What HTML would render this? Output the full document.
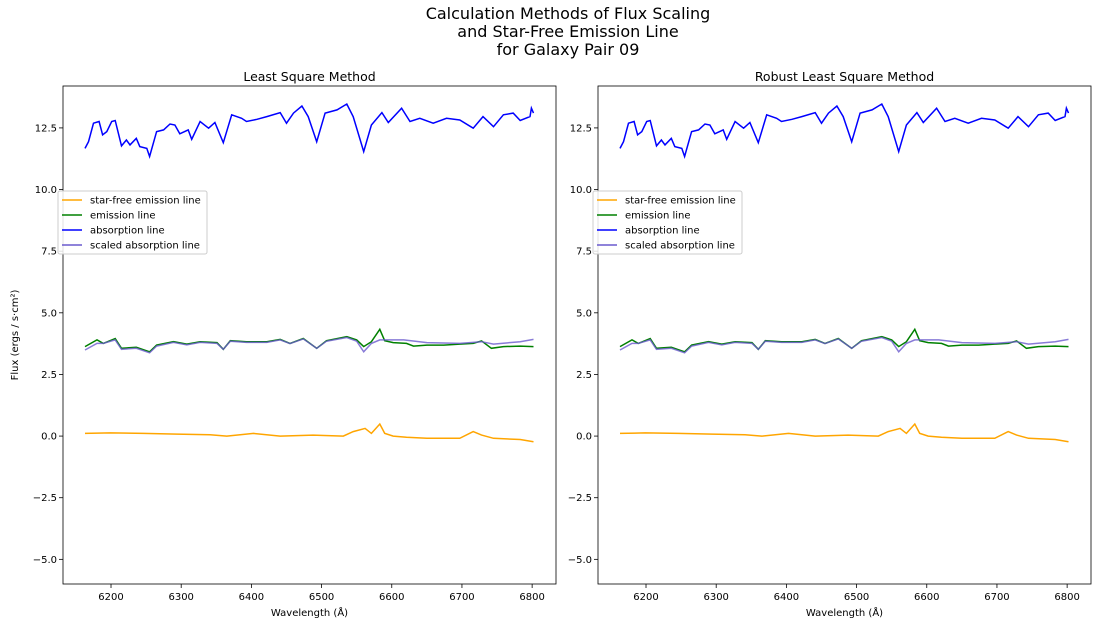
<!DOCTYPE html>
<html><head><meta charset="utf-8"><style>
body{margin:0;background:#fff;font-family:"Liberation Sans","DejaVu Sans",sans-serif;}
svg text{font-family:"DejaVu Sans","Liberation Sans",sans-serif;}
</style></head><body>
<svg id="c" width="1097" height="628">
<text x="568" y="19" font-size="16" text-anchor="middle">Calculation Methods of Flux Scaling</text>
<text x="568" y="37" font-size="16" text-anchor="middle">and Star-Free Emission Line</text>
<text x="568" y="55" font-size="16" text-anchor="middle">for Galaxy Pair 09</text>
</svg>
<script>
const absX=[6163,6168,6175,6183,6188,6194,6201,6206,6215,6222,6227,6236,6241,6251,6255,6265,6275,6284,6291,6298,6310,6315,6327,6339,6348,6360,6372,6386,6393,6408,6422,6441,6450,6460,6472,6481,6493,6505,6522,6536,6545,6560,6571,6586,6595,6614,6626,6640,6659,6678,6697,6716,6730,6745,6759,6773,6783,6797,6799,6802];
const absY=[11.67,11.94,12.69,12.76,12.22,12.35,12.76,12.80,11.77,12.01,11.81,12.08,11.74,11.67,11.34,12.35,12.42,12.66,12.62,12.26,12.42,12.04,12.76,12.49,12.72,11.90,13.03,12.89,12.76,12.85,12.96,13.12,12.69,13.10,13.39,12.96,11.94,13.10,13.23,13.47,12.96,11.54,12.62,13.12,12.72,13.30,12.76,12.89,12.69,12.89,12.82,12.49,12.96,12.55,13.03,13.10,12.80,12.96,13.30,13.10];
const emX=[6163,6180,6189,6206,6215,6236,6255,6265,6289,6308,6327,6351,6360,6370,6393,6422,6441,6455,6474,6493,6507,6536,6550,6560,6571,6583,6590,6602,6621,6631,6650,6674,6697,6716,6728,6742,6759,6783,6802];
const emY=[3.63,3.90,3.76,3.96,3.56,3.60,3.42,3.69,3.83,3.73,3.83,3.79,3.52,3.87,3.83,3.83,3.92,3.76,3.96,3.56,3.87,4.03,3.90,3.63,3.83,4.33,3.87,3.79,3.76,3.65,3.69,3.69,3.73,3.76,3.86,3.56,3.63,3.65,3.63];
const scX=[6163,6180,6189,6206,6215,6236,6255,6265,6289,6308,6327,6351,6360,6370,6393,6422,6441,6455,6474,6493,6507,6536,6550,6560,6571,6583,6617,6650,6697,6728,6745,6783,6802];
const scY=[3.49,3.76,3.76,3.90,3.52,3.56,3.38,3.65,3.80,3.70,3.80,3.76,3.52,3.85,3.80,3.80,3.90,3.75,3.94,3.56,3.85,4.00,3.85,3.42,3.76,3.90,3.90,3.79,3.76,3.83,3.73,3.83,3.92];
const sfX=[6163,6199,6246,6294,6341,6365,6403,6441,6488,6531,6545,6562,6571,6583,6590,6602,6621,6650,6697,6716,6728,6745,6783,6802];
const sfY=[0.11,0.13,0.11,0.08,0.05,0.00,0.11,0.00,0.04,0.00,0.18,0.31,0.11,0.49,0.11,0.00,-0.05,-0.09,-0.09,0.18,0.04,-0.09,-0.14,-0.23];
const xTicks=[6200,6300,6400,6500,6600,6700,6800];
const yTicks=[-5.0,-2.5,0.0,2.5,5.0,7.5,10.0,12.5];
const legendLabels=["star-free emission line","emission line","absorption line","scaled absorption line"];
const legendColors=["orange","green","blue","#6a5acd"];
const NS="http://www.w3.org/2000/svg";
const svg=document.getElementById('c');
function mk(t,a,p){const e=document.createElementNS(NS,t);for(const k in a)e.setAttribute(k,a[k]);(p||svg).appendChild(e);return e;}
function panel(L,R,title,idx){
  const T=86,B=584,x0=6131.6,x1=6834,y0=-6.0,y1=14.2;
  const sx=v=>L+(v-x0)/(x1-x0)*(R-L), sy=v=>B-(v-y0)/(y1-y0)*(B-T);
  const g=mk('g',{});
  
  
  const t=mk('text',{x:(L+R)/2,y:81,'font-size':12.5,'text-anchor':'middle'},g);t.textContent=title;
  
  
  xTicks.forEach(v=>{const x=sx(v);mk('line',{x1:x,x2:x,y1:B,y2:B+4,stroke:'#000','stroke-width':0.8},g);
    const tx=mk('text',{x:x,y:B+16,'font-size':10,'text-anchor':'middle'},g);tx.textContent=v;
    
    });
  yTicks.forEach(v=>{const y=sy(v);mk('line',{x1:L-4,x2:L,y1:y,y2:y,stroke:'#000','stroke-width':0.8},g);
    const tx=mk('text',{x:L-6,y:y+3.5,'font-size':10,'text-anchor':'end'},g);tx.textContent=v.toFixed(1).replace('-','\u2212');
    
    });
  const xl=mk('text',{x:(L+R)/2,y:616,'font-size':10,'text-anchor':'middle'},g);xl.textContent='Wavelength (Å)';
  
  
  const series=[[sfX,sfY,'orange','star-free-line'],[emX,emY,'green','emission-line'],[absX,absY,'blue','absorption-line'],[scX,scY,'#6a5acd','scaled-absorption-line']];
  series.forEach(s=>{const d=s[0].map((x,i)=>(i?'L':'M')+sx(x).toFixed(1)+','+sy(s[1][i]).toFixed(1)).join('');
    const p=mk('path',{d:d,fill:'none',stroke:s[2],'stroke-width':1.5,'stroke-opacity':s[3]=='scaled-absorption-line'?0.8:1},g);
    
    });
  mk('rect',{x:L,y:T,width:R-L,height:B-T,fill:'none',stroke:'#000','stroke-width':0.8},g);
  const lg=mk('g',{},g);
  
  
  const lx=L-5;
  mk('rect',{x:lx,y:191,width:149,height:63,rx:2,fill:'#fff','fill-opacity':0.85,stroke:'#ccc'},lg);
  legendLabels.forEach((s,i)=>{const y=200+i*15;
    mk('line',{x1:lx+4,x2:lx+24,y1:y,y2:y,stroke:legendColors[i],'stroke-width':1.5},lg);
    const tx=mk('text',{x:lx+32,y:y+3.5,'font-size':10},lg);tx.textContent=s;
    
    });
}
panel(63,556,'Least Square Method',1);
panel(598,1091,'Robust Least Square Method',2);
const yl=mk('text',{x:0,y:0,'font-size':10,'text-anchor':'middle',transform:'translate(18,335) rotate(-90)'});
yl.textContent='Flux (ergs / s·cm²)';


</script>
</body></html>
